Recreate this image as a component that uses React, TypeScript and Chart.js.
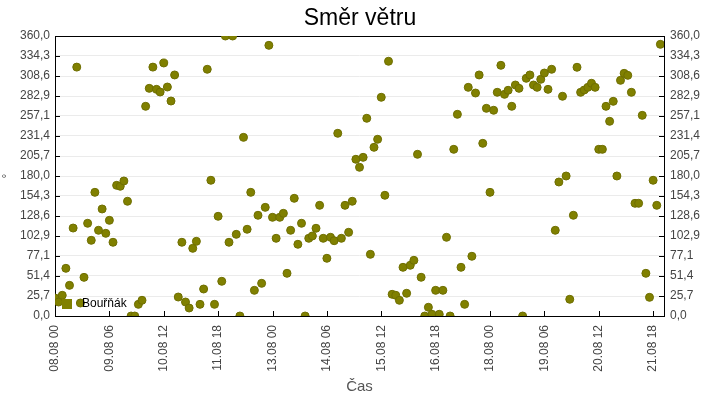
import React, { useEffect, useRef } from 'react';
import { Chart, registerables } from 'chart.js';

Chart.register(...registerables);

// Wind direction (degrees), one reading every 2 hours from 08.08 00:00
const windDirection: number[] = [
  23.1, 18, 26.6, 61.3, 39.4, 113.1, 320, 16.7, 49.7, 119.2,
  97.3, 159, 110.2, 137.6, 106.3, 123, 94.8, 168, 166.8, 173.6,
  147.5, 0, 0, 15, 20.2, 269.6, 292.7, 320, 291.4, 288,
  325.3, 294.4, 276.4, 309.9, 24.4, 94.8, 18, 10.3, 87, 96,
  15, 34.7, 317.2, 174.5, 15, 128.2, 44.6, 360, 94.8, 360,
  105, 0, 229.7, 111.5, 159, 33, 129.5, 42, 139.7, 348,
  126.9, 99.9, 126.9, 132, 54.9, 110.2, 151.3, 92.2, 119.2, 0,
  99.9, 102.9, 112.8, 142.3, 99.9, 74.2, 101.2, 96.8, 234.9, 99.9,
  142.3, 107.6, 147.5, 201.5, 191.2, 204, 254.2, 79.3, 216.9, 227.2,
  281.2, 155.2, 327.5, 27.9, 26.6, 20.2, 62.6, 29.2, 65.2, 71.6,
  207.9, 49.8, 0, 11.2, 2.2, 33, 2.2, 33, 101.2, 0,
  214.3, 259.3, 62.6, 15, 294, 76.8, 286.7, 309.9, 222, 267,
  159, 264.5, 287.6, 322.3, 285, 290.2, 269.6, 297, 292.7, 0,
  305.6, 309.9, 297, 294, 304.3, 312.4, 291.4, 317.2, 110.2, 172.3,
  282.5, 180, 21.5, 129.5, 319.8, 287.6, 290.6, 294, 299.2, 294,
  214.3, 214.3, 269.6, 250.3, 276, 180, 303, 312, 309.4, 287.6,
  144.9, 144.9, 258, 54.9, 24, 174.5, 142.3, 349.3,
];
const STEP_HOURS = 2;
const sampleHours = windDirection.map((_, i) => i * STEP_HOURS);

const xTickHours = [0, 30, 60, 90, 120, 150, 180, 210, 240, 270, 300, 330];
const xTickLabels = [
  '08.08 00', '09.08 06', '10.08 12', '11.08 18', '13.08 00', '14.08 06',
  '15.08 12', '16.08 18', '18.08 00', '19.08 06', '20.08 12', '21.08 18',
];
const yTicks = [
  0, 25.714, 51.429, 77.143, 102.857, 128.571, 154.286, 180,
  205.714, 231.429, 257.143, 282.857, 308.571, 334.286, 360,
];

const FONT = '"Liberation Sans", Arial, sans-serif';
const OLIVE = '#808000';

const fmtY = (v: number) => v.toFixed(1).replace('.', ',');

// frame, inward tick marks and the legend inside the plot
const framePlugin = {
  id: 'frame',
  beforeDatasetsDraw(chart: any) {
    const { ctx, chartArea: a, scales } = chart;
    ctx.save();
    ctx.strokeStyle = '#000';
    ctx.lineWidth = 1;
    ctx.beginPath();
    scales.y.ticks.forEach((t: any) => {
      const y = Math.round(scales.y.getPixelForValue(t.value)) + 0.5;
      ctx.moveTo(a.left, y);
      ctx.lineTo(a.left + 5, y);
      ctx.moveTo(a.right - 5, y);
      ctx.lineTo(a.right, y);
    });
    scales.x.ticks.forEach((t: any) => {
      const x = Math.round(scales.x.getPixelForValue(t.value)) + 0.5;
      ctx.moveTo(x, a.bottom);
      ctx.lineTo(x, a.bottom - 5);
    });
    ctx.stroke();
    ctx.strokeRect(Math.round(a.left) + 0.5, Math.round(a.top) + 0.5,
      Math.round(a.right - a.left), Math.round(a.bottom - a.top));
    ctx.restore();
  },
  afterDatasetsDraw(chart: any) {
    const { ctx, chartArea: a } = chart;
    const ds = chart.data.datasets[0];
    ctx.save();
    ctx.fillStyle = OLIVE;
    ctx.fillRect(a.left + 7, a.bottom - 17, 10, 10);
    ctx.fillStyle = '#000';
    ctx.font = `12px ${FONT}`;
    ctx.textBaseline = 'middle';
    ctx.fillText(ds.label, a.left + 27, a.bottom - 12);
    ctx.restore();
  },
};

export default function App() {
  const canvasRef = useRef<HTMLCanvasElement>(null);

  useEffect(() => {
    if (!canvasRef.current) return;
    const yTickSetter = (scale: any) => {
      scale.ticks = yTicks.map((v) => ({ value: v }));
    };
    const chart = new Chart(canvasRef.current, {
      type: 'scatter',
      data: {
        datasets: [{
          label: 'Bouřňák',
          data: windDirection.map((v, i) => ({ x: sampleHours[i], y: v })),
          backgroundColor: OLIVE,
          borderColor: '#6e6e00',
          borderWidth: 1,
          pointRadius: 4,
        }],
      },
      options: {
        responsive: false,
        animation: false,
        layout: { padding: 0 },
        plugins: {
          legend: { display: false },
          tooltip: { enabled: false },
          title: {
            display: true,
            text: 'Směr větru',
            color: '#000',
            font: { family: FONT, size: 23, weight: 'normal' },
            padding: { top: 5, bottom: 3.4 },
          },
        },
        scales: {
          x: {
            type: 'linear',
            min: 0,
            max: 336,
            afterBuildTicks: (scale: any) => {
              scale.ticks = xTickHours.map((v) => ({ value: v }));
            },
            afterFit: (scale: any) => { scale.height = 84; },
            grid: { display: false, drawTicks: false },
            border: { display: false },
            ticks: {
              autoSkip: false,
              minRotation: 90,
              maxRotation: 90,
              padding: 9,
              color: '#444',
              font: { family: FONT, size: 12 },
              callback: (value: any) => {
                const idx = xTickHours.indexOf(Number(value));
                return idx >= 0 ? xTickLabels[idx] : '';
              },
            },
            title: {
              display: true,
              text: 'Čas',
              color: '#555',
              font: { family: FONT, size: 15 },
              padding: { top: 0, bottom: 4 },
            },
          },
          y: {
            position: 'left',
            min: 0,
            max: 360,
            afterBuildTicks: yTickSetter,
            afterFit: (scale: any) => { scale.width = 55; },
            grid: { color: '#ebebeb', drawTicks: false },
            border: { display: false },
            ticks: {
              padding: 5,
              color: '#444',
              font: { family: FONT, size: 12 },
              callback: (value: any) => fmtY(Number(value)),
            },
            title: {
              display: true,
              text: '°',
              color: '#444',
              font: { family: FONT, size: 12 },
              padding: 0,
            },
          },
          y2: {
            position: 'right',
            min: 0,
            max: 360,
            afterBuildTicks: yTickSetter,
            afterFit: (scale: any) => { scale.width = 56; },
            grid: { display: false, drawTicks: false },
            border: { display: false },
            ticks: {
              padding: 6,
              color: '#444',
              font: { family: FONT, size: 12 },
              callback: (value: any) => fmtY(Number(value)),
            },
          },
        },
      },
      plugins: [framePlugin],
    });
    return () => chart.destroy();
  }, []);

  return (
    <div style={{ position: 'fixed', left: 0, top: 0, width: 720, height: 400, background: '#fff' }}>
      <canvas ref={canvasRef} width={720} height={400} />
    </div>
  );
}
